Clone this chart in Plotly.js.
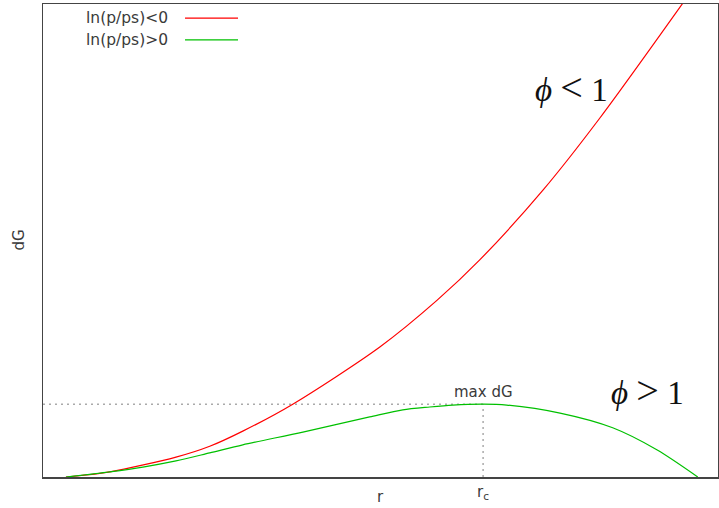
<!DOCTYPE html>
<html>
<head>
<meta charset="utf-8">
<script src="https://cdn.plot.ly/plotly-3.0.1.min.js"></script>
<style>html,body{margin:0;padding:0;background:#fff;}#chart{width:719px;height:508px;}</style>
</head>
<body>
<div id="chart"></div>
<script>
// Data (arbitrary units, axis range 0..10)
const rRed  = [0.34, 0.99, 1.97, 2.47, 2.96, 3.70, 4.99, 5.84, 6.47, 7.41, 8.25, 9.48];
const dGRed = [0.00, 0.11, 0.42, 0.65, 0.97, 1.54, 2.75, 3.74, 4.59, 6.07, 7.59, 10.02];
const rGreen  = [0.34, 0.99, 1.48, 1.97, 2.47, 2.96, 3.85, 4.84, 5.33, 5.73, 6.07, 6.52, 6.87, 7.66, 8.44, 9.10, 9.70];
const dGGreen = [0.00, 0.11, 0.21, 0.34, 0.51, 0.68, 0.95, 1.27, 1.42, 1.48, 1.52, 1.54, 1.52, 1.35, 1.04, 0.57, 0.00];
const rc = 6.52;
const maxDG = 1.54;
const seriesNames = ["ln(p/ps)<0", "ln(p/ps)>0"];
const seriesColors = ["#ff0000", "#00c000"];
const xLabel = "r";
const yLabel = "dG";
const rcLabel = "r<sub>c</sub>";
const maxLabel = "max dG";
const phiLess = "<i>ϕ</i> <span style='font-size:40px'>&lt;</span> 1";
const phiMore = "<i>ϕ</i> <span style='font-size:40px'>&gt;</span> 1";

const textColor = "#3a3a3a";
const sans = "DejaVu Sans, sans-serif";

const traces = [
  {x: [0, rc], y: [maxDG, maxDG], mode: "lines", line: {color: "#aaaaaa", width: 1.5, dash: "2px,4px"}, hoverinfo: "skip", showlegend: false},
  {x: [rc, rc], y: [0, maxDG], mode: "lines", line: {color: "#aaaaaa", width: 1.5, dash: "2px,4px"}, hoverinfo: "skip", showlegend: false},
  {x: rRed, y: dGRed, mode: "lines", name: seriesNames[0], line: {color: seriesColors[0], width: 1.2, shape: "spline", smoothing: 0.8}, showlegend: false},
  {x: rGreen, y: dGGreen, mode: "lines", name: seriesNames[1], line: {color: seriesColors[1], width: 1.2, shape: "spline", smoothing: 0.8}, showlegend: false}
];

// manual gnuplot-style legend (text left, sample line right)
const legY = [0.970, 0.924];
const annotations = [];
const shapes = [];
seriesNames.forEach((n, i) => {
  annotations.push({xref: "paper", yref: "paper", x: 0.188, y: legY[i], text: n, showarrow: false,
    xanchor: "right", yanchor: "middle", font: {family: sans, size: 15.5, color: textColor}});
  shapes.push({type: "line", xref: "paper", yref: "paper", x0: 0.2104, x1: 0.2889, y0: legY[i], y1: legY[i],
    line: {color: seriesColors[i], width: 1.2}});
});

annotations.push(
  {x: rc, y: maxDG, text: maxLabel, showarrow: false, xanchor: "center", yanchor: "middle", yshift: 12,
   font: {family: sans, size: 15, color: textColor}},
  {x: rc, y: 0, text: rcLabel, showarrow: false, xanchor: "center", yanchor: "middle", yshift: -15,
   font: {family: sans, size: 15, color: textColor}},
  {xref: "paper", yref: "paper", x: 0.5, y: 0, text: xLabel, showarrow: false, xanchor: "center", yanchor: "middle", yshift: -20,
   font: {family: sans, size: 15, color: textColor}},
  {xref: "paper", yref: "paper", x: 0, y: 0.5, text: yLabel, showarrow: false, xanchor: "center", yanchor: "middle", xshift: -25, textangle: -90,
   font: {family: sans, size: 15, color: textColor}},
  {xref: "paper", yref: "paper", x: (571 - 43) / 675, y: (477 - 87) / 473, text: phiLess, showarrow: false, xanchor: "center", yanchor: "middle",
   font: {family: "Liberation Serif, serif", size: 33, color: "#111"}},
  {xref: "paper", yref: "paper", x: (647 - 43) / 675, y: (477 - 390) / 473, text: phiMore, showarrow: false, xanchor: "center", yanchor: "middle",
   font: {family: "Liberation Serif, serif", size: 33, color: "#111"}}
);

const layout = {
  width: 719, height: 508,
  margin: {l: 43, r: 1, t: 4, b: 31, pad: 0},
  paper_bgcolor: "#fff", plot_bgcolor: "#fff",
  showlegend: false,
  xaxis: {range: [0, 10], showgrid: false, zeroline: false, showticklabels: false, ticks: "",
          showline: true, linecolor: "#444", linewidth: 1.5, mirror: true, fixedrange: true},
  yaxis: {range: [0, 10], showgrid: false, zeroline: false, showticklabels: false, ticks: "",
          showline: true, linecolor: "#444", linewidth: 1.5, mirror: true, fixedrange: true},
  annotations: annotations,
  shapes: shapes
};

Plotly.newPlot("chart", traces, layout, {displayModeBar: false, staticPlot: true});
</script>
</body>
</html>
